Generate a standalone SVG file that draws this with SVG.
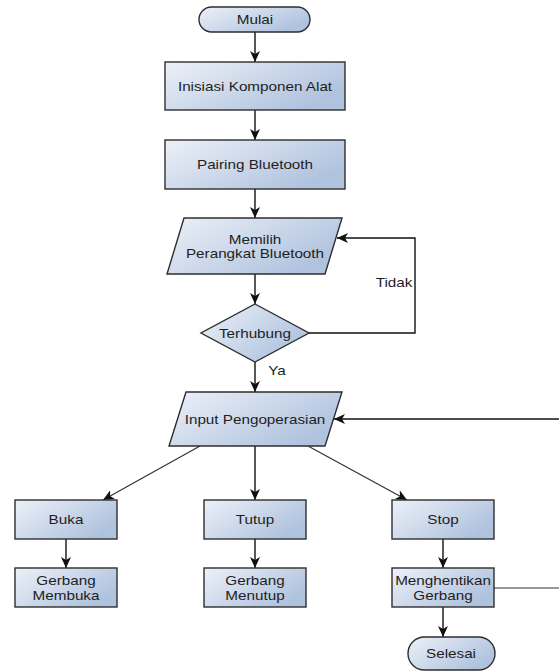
<svg xmlns="http://www.w3.org/2000/svg" width="559" height="672" viewBox="0 0 559 672">
<defs>
<linearGradient id="g" x1="0" y1="0" x2="1" y2="0.6">
<stop offset="0" stop-color="#edf1f8"/>
<stop offset="1" stop-color="#afc2de"/>
</linearGradient>
<marker id="ah" markerWidth="12" markerHeight="12" viewBox="0 0 12 12" refX="11" refY="6" orient="auto" markerUnits="userSpaceOnUse">
<path d="M0,1 L11,6 L0,11 L3,6 Z" fill="#111"/>
</marker>
</defs>
<style>
.s{fill:url(#g);stroke:#2e2e2e;stroke-width:1.4}
.t{font-family:"Liberation Sans",Arial,sans-serif;font-size:13.5px;fill:#1e1e1e;text-anchor:middle}
.c{fill:none;stroke:#111;stroke-width:1.4}
.d{fill:none;stroke:#333;stroke-width:1.2}
</style>
<rect width="559" height="672" fill="#fff"/>
<g id="connectors">
<line class="c" x1="255" y1="32" x2="255" y2="62" marker-end="url(#ah)"/>
<line class="c" x1="255" y1="110" x2="255" y2="140" marker-end="url(#ah)"/>
<line class="c" x1="255" y1="189" x2="255" y2="218" marker-end="url(#ah)"/>
<line class="c" x1="255" y1="274" x2="255" y2="304" marker-end="url(#ah)"/>
<line class="c" x1="255" y1="362" x2="255" y2="392" marker-end="url(#ah)"/>
<polyline class="c" points="309,333 415,333 415,238 337,238" marker-end="url(#ah)"/>
<line class="c" x1="559" y1="419" x2="334" y2="419" marker-end="url(#ah)"/>
<line class="c" x1="255" y1="446" x2="255" y2="500" marker-end="url(#ah)"/>
<line class="d" x1="200" y1="446" x2="103" y2="500" marker-end="url(#ah)"/>
<line class="d" x1="308" y1="446" x2="407" y2="500" marker-end="url(#ah)"/>
<line class="c" x1="66" y1="539" x2="66" y2="568" marker-end="url(#ah)"/>
<line class="c" x1="255" y1="539" x2="255" y2="568" marker-end="url(#ah)"/>
<line class="c" x1="443" y1="539" x2="443" y2="568" marker-end="url(#ah)"/>
<line class="c" x1="443" y1="607" x2="443" y2="637" marker-end="url(#ah)"/>
<line class="d" x1="494" y1="588" x2="559" y2="588"/>
<text class="t" transform="translate(394,287) scale(1.13,1)">Tidak</text>
<text class="t" transform="translate(277,375) scale(1.13,1)">Ya</text>
</g>
<g id="mulai">
<rect class="s" x="199" y="7" width="111" height="25" rx="12.5"/>
<text class="t" transform="translate(255,24) scale(1.13,1)">Mulai</text>
</g>
<g id="inisiasi">
<rect class="s" x="165" y="62" width="180" height="48"/>
<text class="t" transform="translate(255,91) scale(1.13,1)">Inisiasi Komponen Alat</text>
</g>
<g id="pairing">
<rect class="s" x="165" y="140" width="180" height="49"/>
<text class="t" transform="translate(255,169) scale(1.13,1)">Pairing Bluetooth</text>
</g>
<g id="memilih">
<polygon class="s" points="184,218 342,218 325,274 167,274"/>
<text class="t" transform="translate(255,244) scale(1.13,1)">Memilih</text>
<text class="t" transform="translate(255,258) scale(1.13,1)">Perangkat Bluetooth</text>
</g>
<g id="terhubung">
<polygon class="s" points="255,304 309,333 255,362 201,333"/>
<text class="t" transform="translate(255,338) scale(1.13,1)">Terhubung</text>
</g>
<g id="input">
<polygon class="s" points="186,392 342,392 325,446 169,446"/>
<text class="t" transform="translate(255,424) scale(1.13,1)">Input Pengoperasian</text>
</g>
<g id="buka">
<rect class="s" x="15" y="500" width="102" height="39"/>
<text class="t" transform="translate(66,524) scale(1.13,1)">Buka</text>
</g>
<g id="tutup">
<rect class="s" x="204" y="500" width="102" height="39"/>
<text class="t" transform="translate(255,524) scale(1.13,1)">Tutup</text>
</g>
<g id="stop">
<rect class="s" x="392" y="500" width="102" height="39"/>
<text class="t" transform="translate(443,524) scale(1.13,1)">Stop</text>
</g>
<g id="membuka">
<rect class="s" x="15" y="568" width="102" height="39"/>
<text class="t" transform="translate(66,585) scale(1.13,1)">Gerbang</text>
<text class="t" transform="translate(66,600) scale(1.13,1)">Membuka</text>
</g>
<g id="menutup">
<rect class="s" x="204" y="568" width="102" height="39"/>
<text class="t" transform="translate(255,585) scale(1.13,1)">Gerbang</text>
<text class="t" transform="translate(255,600) scale(1.13,1)">Menutup</text>
</g>
<g id="menghentikan">
<rect class="s" x="392" y="568" width="102" height="39"/>
<text class="t" transform="translate(443,585) scale(1.13,1)">Menghentikan</text>
<text class="t" transform="translate(443,600) scale(1.13,1)">Gerbang</text>
</g>
<g id="selesai">
<rect class="s" x="408" y="637" width="87" height="33" rx="16.5"/>
<text class="t" transform="translate(451,658) scale(1.13,1)">Selesai</text>
</g>
</svg>
